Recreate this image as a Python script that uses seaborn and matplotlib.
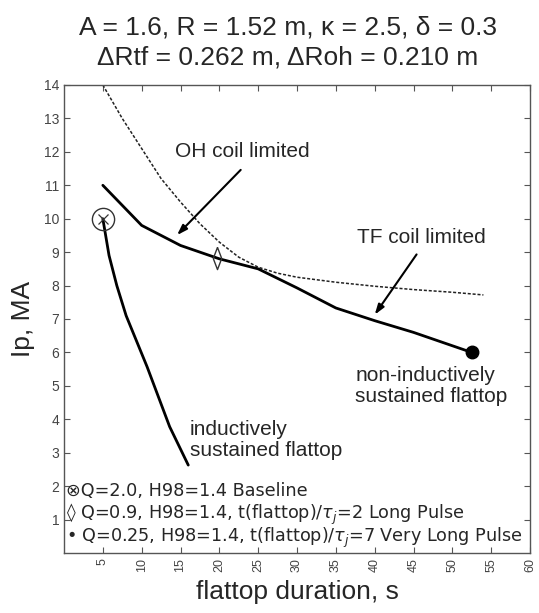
import matplotlib
matplotlib.use("Agg")
import matplotlib.pyplot as plt
import seaborn as sns
import pandas as pd

# OH coil limited (heavy solid, upper)
oh_x = [5, 10, 15, 20, 25, 30, 35, 40, 45, 52.5]
oh_y = [11.0, 9.8, 9.2, 8.8, 8.5, 7.93, 7.33, 6.95, 6.6, 6.0]

# TF coil limit (thin dotted)
tf_x = [5, 7.5, 10, 12.5, 15, 17.5, 20, 22.5, 25, 27.5, 30, 35, 40, 45, 50, 54]
tf_y = [14.0, 13.0, 12.1, 11.2, 10.5, 9.85, 9.3, 8.85, 8.55, 8.37, 8.25, 8.1, 7.98, 7.88, 7.8, 7.72]

# inductively sustained flattop
ind_x = [5, 5.8, 6.8, 8, 10.7, 13.6, 16]
ind_y = [10.0, 8.9, 8.0, 7.1, 5.57, 3.78, 2.63]

# operating points
base_pt = (5, 10)
long_pt = (19.7, 8.82)
vlong_pt = (52.5, 6.0)

x_ticks = list(range(5, 65, 5))
y_ticks = list(range(1, 15))

sns.set_style("ticks")
plt.rcParams["font.family"] = ["Liberation Sans", "DejaVu Sans"]

fig = plt.figure(figsize=(5.39, 6.13), dpi=100)
ax = fig.add_axes([64 / 539, 60 / 613, 466 / 539, 468 / 613])

sns.lineplot(data=pd.DataFrame({"x": tf_x, "y": tf_y}), x="x", y="y", ax=ax,
             sort=False, estimator=None, color="#222222", lw=1.1,
             linestyle=(0, (2.0, 1.2)))
sns.lineplot(data=pd.DataFrame({"x": oh_x, "y": oh_y}), x="x", y="y", ax=ax,
             sort=False, estimator=None, color="black", lw=2.0)
sns.lineplot(data=pd.DataFrame({"x": ind_x, "y": ind_y}), x="x", y="y", ax=ax,
             sort=False, estimator=None, color="black", lw=2.0)

# markers
ax.plot(*base_pt, marker="o", ms=16, mfc="none", mec="#333333", mew=1.0)
ax.plot(*base_pt, marker="x", ms=7, mec="#333333", mew=0.9)
diamond = [(0, 1), (0.38, 0), (0, -1), (-0.38, 0), (0, 1)]
ax.plot(*long_pt, marker=diamond, ms=16, mfc="none", mec="#333333", mew=1.0)
ax.plot(*vlong_pt, marker="o", ms=9, color="black")

# annotations
ax.text(14.3, 12.0, "OH coil limited", fontsize=15, va="center", ha="left")
ax.annotate("", xy=(14.3, 9.45), xytext=(23.0, 11.52),
            arrowprops=dict(arrowstyle="-|>,head_length=0.6,head_width=0.2",
                            color="black", lw=1.5))
ax.text(37.7, 9.45, "TF coil limited", fontsize=15, va="center", ha="left")
ax.annotate("", xy=(39.8, 7.06), xytext=(45.6, 9.0),
            arrowprops=dict(arrowstyle="-|>,head_length=0.6,head_width=0.2",
                            color="black", lw=1.5))
ax.text(37.5, 5.0, "non-inductively\nsustained flattop", fontsize=15,
        va="center", ha="left", linespacing=1.15)
ax.text(16.2, 3.38, "inductively\nsustained flattop", fontsize=15,
        va="center", ha="left", linespacing=1.15)

legend_lines = [
    "\u2297Q=2.0, H98=1.4 Baseline",
    "\u25ca Q=0.9, H98=1.4, t(flattop)/$\\tau_j$=2 Long Pulse",
    "\u2022 Q=0.25, H98=1.4, t(flattop)/$\\tau_j$=7 Very Long Pulse",
]
for txt, yy in zip(legend_lines, [1.84, 1.14, 0.46]):
    ax.text(0.25, yy, txt, fontsize=12.7, va="center", ha="left",
            family=["DejaVu Sans"])

ax.set_xlim(0, 60)
ax.set_ylim(0, 14)
ax.set_xticks(x_ticks)
ax.set_yticks(y_ticks)
ax.set_xticklabels([str(v) for v in x_ticks], rotation=90, fontsize=9, color="#444444")
ax.set_yticklabels([str(v) for v in y_ticks], fontsize=10, color="#444444")
ax.tick_params(direction="in", top=True, right=True, length=4, width=0.8,
               color="#555555")
for s in ax.spines.values():
    s.set_color("#555555")
    s.set_linewidth(1.0)
ax.set_xlabel("flattop duration, s", fontsize=19, labelpad=6)
ax.set_ylabel("Ip, MA", fontsize=19, labelpad=6)

fig.text(288 / 539, 1 - 27 / 613, "A = 1.6, R = 1.52 m, \u03ba = 2.5, \u03b4 = 0.3",
         ha="center", va="center", fontsize=19)
fig.text(288 / 539, 1 - 58 / 613, "\u0394Rtf = 0.262 m, \u0394Roh = 0.210 m",
         ha="center", va="center", fontsize=19)

fig.savefig("out.png", dpi=100)
